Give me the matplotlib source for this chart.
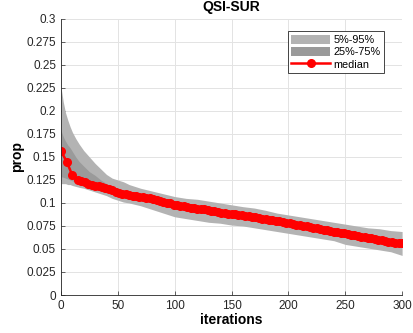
import numpy as np
import matplotlib
matplotlib.use("Agg")
import matplotlib.pyplot as plt

plt.rcParams["font.family"] = ["Liberation Sans", "DejaVu Sans"]

# median curve (markers)
med_iters = [0, 5, 10] + list(range(15, 301, 3))
med_vals = [0.1565, 0.145, 0.130,
            0.125, 0.1235, 0.1225, 0.121, 0.120, 0.119, 0.118, 0.117, 0.116, 0.115,
            0.114, 0.112, 0.111, 0.110, 0.1095, 0.109, 0.108, 0.1075, 0.107, 0.106,
            0.1055, 0.105, 0.104, 0.1035, 0.1025, 0.1015, 0.1005, 0.0995, 0.098, 0.0975,
            0.097, 0.0965, 0.0955, 0.095, 0.0945, 0.094, 0.0935, 0.093, 0.092, 0.0915,
            0.091, 0.0905, 0.0895, 0.089, 0.0885, 0.088, 0.0875, 0.087, 0.0865, 0.086,
            0.0855, 0.085, 0.0845, 0.084, 0.083, 0.0825, 0.082, 0.081, 0.0805, 0.080,
            0.079, 0.0785, 0.078, 0.077, 0.0765, 0.076, 0.075, 0.0745, 0.074, 0.073,
            0.0725, 0.072, 0.071, 0.0705, 0.070, 0.069, 0.0685, 0.0675, 0.067, 0.066,
            0.0655, 0.065, 0.064, 0.0635, 0.063, 0.062, 0.0615, 0.061, 0.060, 0.0595,
            0.059, 0.058, 0.0575, 0.057, 0.0565, 0.056]

# percentile bands
band_iters = [0, 2, 4, 6, 8, 10, 13, 16, 20, 25, 30, 35, 40, 45, 50, 55, 60, 70, 80, 90,
              100, 110, 120, 130, 140, 150, 160, 170, 180, 190, 200, 210, 220, 230, 240,
              250, 260, 270, 280, 290, 300]
p95 = [0.226, 0.210, 0.198, 0.190, 0.183, 0.177, 0.170, 0.164, 0.157, 0.150, 0.143, 0.137,
       0.131, 0.127, 0.125, 0.123, 0.120, 0.116, 0.113, 0.110, 0.107, 0.105, 0.104, 0.102,
       0.100, 0.098, 0.096, 0.0945, 0.092, 0.089, 0.087, 0.085, 0.083, 0.081, 0.079, 0.077,
       0.075, 0.073, 0.072, 0.070, 0.069]
p5 = [0.121, 0.121, 0.121, 0.120, 0.120, 0.119, 0.118, 0.117, 0.116, 0.114, 0.112, 0.110,
      0.108, 0.105, 0.103, 0.101, 0.100, 0.097, 0.093, 0.089, 0.085, 0.083, 0.081, 0.079,
      0.078, 0.076, 0.075, 0.073, 0.071, 0.069, 0.067, 0.065, 0.063, 0.061, 0.059, 0.055,
      0.053, 0.051, 0.049, 0.047, 0.043]
p75 = [0.179, 0.172, 0.167, 0.163, 0.160, 0.156, 0.150, 0.145, 0.140, 0.134, 0.130, 0.125,
       0.121, 0.117, 0.114, 0.113, 0.111, 0.108, 0.105, 0.1025, 0.1005, 0.098, 0.097, 0.095,
       0.093, 0.091, 0.0895, 0.088, 0.0855, 0.0835, 0.081, 0.079, 0.076, 0.074, 0.072,
       0.069, 0.067, 0.065, 0.063, 0.061, 0.059]
p25 = [0.1285, 0.128, 0.127, 0.126, 0.125, 0.124, 0.122, 0.121, 0.119, 0.117, 0.115, 0.113,
       0.111, 0.110, 0.108, 0.107, 0.106, 0.103, 0.100, 0.0975, 0.095, 0.0925, 0.091, 0.089,
       0.087, 0.085, 0.0835, 0.082, 0.0795, 0.0775, 0.075, 0.073, 0.070, 0.068, 0.066,
       0.063, 0.061, 0.059, 0.057, 0.055, 0.053]

fig = plt.figure(figsize=(4.14, 3.33), dpi=100)
ax = fig.add_axes([0.1473, 0.1141, 0.824, 0.829])

dark = "#262626"
ax.fill_between(band_iters, p5, p95, color="#b3b3b3", linewidth=0, label="5%-95%")
ax.fill_between(band_iters, p25, p75, color="#9a9a9a", linewidth=0, label="25%-75%")
ax.plot(med_iters, med_vals, color="red", linewidth=1.8, marker="o", markersize=5.5,
        markeredgewidth=1, label="median")

ax.set_xlim(0, 300)
ax.set_ylim(0, 0.3)
ax.set_xticks(np.arange(0, 301, 50))
ax.set_yticks(np.arange(0, 0.3001, 0.025))
ax.set_yticklabels(["0", "0.025", "0.05", "0.075", "0.1", "0.125", "0.15", "0.175",
                    "0.2", "0.225", "0.25", "0.275", "0.3"])
ax.grid(True, color="#e3e3e3", linewidth=0.7)
ax.set_axisbelow(True)
ax.tick_params(direction="in", length=3, width=0.5, colors=dark, labelsize=8.5)
for s in ["top", "right"]:
    ax.spines[s].set_visible(False)
for s in ["left", "bottom"]:
    ax.spines[s].set_color(dark)
    ax.spines[s].set_linewidth(0.6)

ax.set_title("QSI-SUR", fontsize=10, fontweight="bold", color="black", pad=6)
ax.set_xlabel("iterations", fontsize=10, fontweight="bold", labelpad=1)
ax.set_ylabel("prop", fontsize=10, fontweight="bold", labelpad=2)

leg = ax.legend(loc="upper right", bbox_to_anchor=(0.962, 0.975), fontsize=7.8,
                fancybox=False, framealpha=1, edgecolor=dark, handlelength=3.6,
                handleheight=0.9, labelspacing=0.2, borderpad=0.3, handletextpad=0.3)
leg.get_frame().set_linewidth(0.6)

fig.savefig("out.png", dpi=100)
